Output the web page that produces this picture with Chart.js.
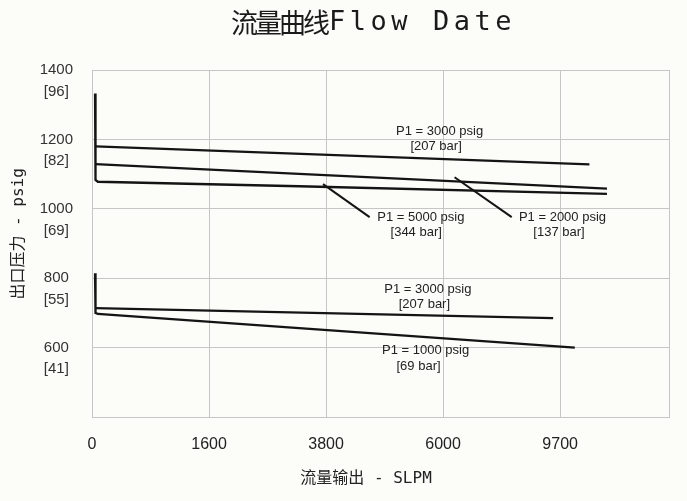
<!DOCTYPE html>
<html>
<head>
<meta charset="utf-8">
<script src="https://cdn.jsdelivr.net/npm/chart.js@4.4.1/dist/chart.umd.min.js"></script>
<style>
  html, body { margin: 0; padding: 0; background: #fcfcf8; }
  #wrap { width: 687px; height: 501px; }
</style>
</head>
<body>
<div id="wrap"><canvas id="c" width="687" height="501"></canvas></div>
<script>
// ---- Data (x in equal grid divisions of the flow axis, y in psig) ----
const xTickLabels = ['0', '1600', '3800', '6000', '9700'];
const yTickPsig = [600, 800, 1000, 1200, 1400];
const yTickBar = ['[41]', '[55]', '[69]', '[82]', '[96]'];

// Upper group
const p3000HighX = [0.03, 4.25];
const p3000HighY = [1180, 1128];
const p2000X = [0.03, 4.40];
const p2000Y = [1129, 1058];
const p5000X = [0.026, 0.027, 0.033, 0.05, 1.77, 4.40];
const p5000Y = [1332, 1095, 1083, 1078, 1065, 1043];

// Lower group
const p3000LowX = [0.03, 3.94];
const p3000LowY = [714, 685];
const p1000X = [0.026, 0.027, 0.033, 0.05, 4.125];
const p1000Y = [814, 712, 700, 697, 600];

// Leader lines
const lead5000X = [1.974, 2.372];
const lead5000Y = [1071, 976];
const lead2000X = [3.098, 3.586];
const lead2000Y = [1091, 976];

// Annotation texts and anchors (data units)
const noteTexts = ['P1 = 3000 psig', '[207 bar]', 'P1 = 5000 psig', '[344 bar]', 'P1 = 2000 psig', '[137 bar]',
                   'P1 = 3000 psig', '[207 bar]', 'P1 = 1000 psig', '[69 bar]'];
const noteX = [2.97, 2.94, 2.81, 2.77, 4.02, 3.99, 2.87, 2.84, 2.85, 2.79];
const noteY = [1224, 1180, 976, 933, 976, 933, 768, 723, 592, 545];

const xMax = 4.93;

function pts(xs, ys) { return xs.map((x, i) => ({ x: x, y: ys[i] })); }

const LINE = '#141414';
function ds(xs, ys, w) {
  return { data: pts(xs, ys), borderColor: LINE, borderWidth: w, pointRadius: 0, tension: 0, fill: false };
}

const bgPlugin = {
  id: 'bg',
  beforeDraw(chart) {
    const ctx = chart.ctx;
    ctx.save();
    ctx.fillStyle = '#fcfcf8';
    ctx.fillRect(0, 0, chart.width, chart.height);
    ctx.restore();
  }
};

const titlePlugin = {
  id: 'customTitle',
  afterDraw(chart) {
    const ctx = chart.ctx;
    const a = chart.chartArea;
    const cx = (a.left + a.right) / 2 - 8;
    const cy = 23;
    const part1 = '流量曲线';
    const part2 = 'Flow Date';
    const f1 = '27px "Noto Sans CJK SC"', ls1 = '-3px';
    const f2 = '27px "DejaVu Sans Mono"', ls2 = '4.5px';
    ctx.save();
    ctx.fillStyle = '#1a1a1a';
    ctx.textBaseline = 'middle';
    ctx.textAlign = 'left';
    ctx.font = f1; ctx.letterSpacing = ls1;
    const w1 = ctx.measureText(part1).width;
    ctx.font = f2; ctx.letterSpacing = ls2;
    const w2 = ctx.measureText(part2).width;
    const start = cx - (w1 + w2) / 2;
    ctx.font = f1; ctx.letterSpacing = ls1;
    ctx.fillText(part1, start, cy);
    ctx.font = f2; ctx.letterSpacing = ls2;
    ctx.fillText(part2, start + w1 + 2, cy);
    ctx.restore();
  }
};

const notesPlugin = {
  id: 'notes',
  afterDatasetsDraw(chart) {
    const ctx = chart.ctx;
    const xs = chart.scales.x, ys = chart.scales.y;
    ctx.save();
    ctx.fillStyle = '#222';
    ctx.font = '13px "Liberation Sans", Arial, sans-serif';
    ctx.textAlign = 'center';
    ctx.textBaseline = 'middle';
    noteTexts.forEach((t, i) => {
      ctx.fillText(t, xs.getPixelForValue(noteX[i]), ys.getPixelForValue(noteY[i]));
    });
    ctx.restore();
  }
};

new Chart(document.getElementById('c'), {
  type: 'line',
  data: {
    datasets: [
      ds(p3000HighX, p3000HighY, 2.3),
      ds(p2000X, p2000Y, 2.3),
      ds(p5000X, p5000Y, 2.3),
      ds(p3000LowX, p3000LowY, 2.3),
      ds(p1000X, p1000Y, 2.3),
      ds(lead5000X, lead5000Y, 2),
      ds(lead2000X, lead2000Y, 2)
    ]
  },
  options: {
    responsive: false,
    animation: false,
    devicePixelRatio: 1,
    layout: { padding: { top: 70, right: 17, left: 0, bottom: 0 } },
    plugins: { legend: { display: false }, tooltip: { enabled: false }, title: { display: false } },
    scales: {
      x: {
        type: 'linear',
        min: 0,
        max: xMax,
        afterFit(s) { s.height = 84; },
        grid: { color: '#c6c6c6', lineWidth: 1, drawTicks: false },
        border: { color: '#c6c6c6', width: 1 },
        ticks: {
          stepSize: 1,
          includeBounds: true,
          autoSkip: false,
          maxRotation: 0,
          padding: 18,
          color: '#222',
          font: { family: '"Liberation Sans", Arial, sans-serif', size: 16 },
          callback(v) {
            const i = Math.round(v);
            return (Math.abs(v - i) < 1e-6 && i < xTickLabels.length) ? xTickLabels[i] : '';
          }
        },
        title: {
          display: true,
          text: '流量输出 - SLPM   ',
          color: '#222',
          font: { family: '"DejaVu Sans Mono", "Noto Sans CJK SC", monospace', size: 16 },
          padding: { top: 0, bottom: 13 }
        }
      },
      y: {
        type: 'linear',
        min: 400,
        max: 1400,
        afterFit(s) { s.width = 92; },
        grid: { color: '#c6c6c6', lineWidth: 1, drawTicks: false },
        border: { color: '#c6c6c6', width: 1 },
        ticks: {
          stepSize: 200,
          autoSkip: false,
          padding: 19,
          crossAlign: 'center',
          color: '#333',
          font: { family: '"Liberation Sans", Arial, sans-serif', size: 15, lineHeight: 1.45 },
          callback(v) {
            const i = yTickPsig.indexOf(v);
            return i >= 0 ? ['', String(yTickPsig[i]), yTickBar[i]] : '';
          }
        },
        title: {
          display: true,
          text: '  出口压力 - psig',
          color: '#222',
          font: { family: '"DejaVu Sans Mono", "Noto Sans CJK SC", monospace', size: 16 },
          padding: { top: 9, bottom: 0 }
        }
      }
    }
  },
  plugins: [bgPlugin, notesPlugin, titlePlugin]
});
</script>
</body>
</html>
